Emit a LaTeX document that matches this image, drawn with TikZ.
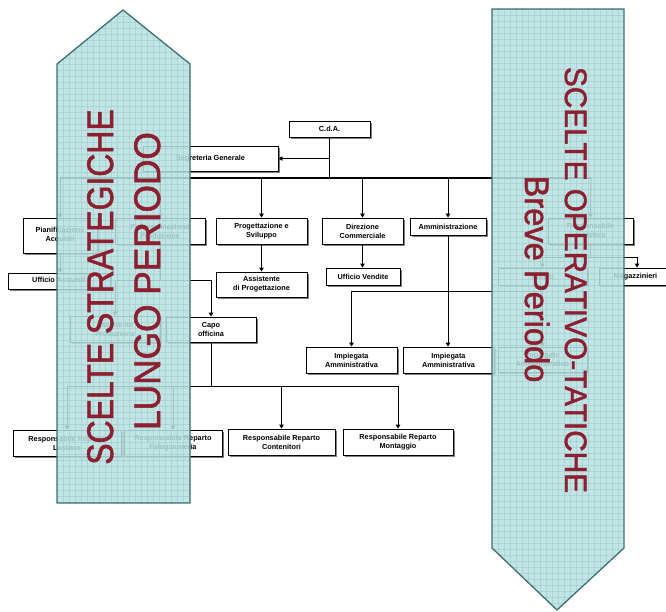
\documentclass[tikz,border=0pt]{standalone}
\usepackage{fontspec}
\usepackage{graphicx}
\setmainfont{Liberation Sans}
\newfontfamily\bigfont[FakeBold=1.6]{Liberation Sans}
\usetikzlibrary{arrows.meta,shadows}
\definecolor{afill}{RGB}{186,224,224}
\definecolor{agrid}{RGB}{150,204,204}
\definecolor{aline}{RGB}{62,112,112}
\definecolor{rtext}{RGB}{140,32,48}
\begin{document}
\begin{tikzpicture}[x=1pt,y=-1pt,
  box/.style={draw=black, line width=0.9pt, fill=white, inner sep=0pt, align=center,
    font=\bfseries\fontsize{7.3}{9}\selectfont,
    drop shadow={shadow xshift=1.6pt, shadow yshift=-1.6pt, fill=black!50, opacity=1}},
  wh/.style 2 args={minimum width=#1pt, minimum height=#2pt},
  conn/.style={line width=0.9pt},
  arr/.style={line width=0.9pt, -{Triangle[length=4pt,width=4.5pt]}},
  bus/.style={line width=1.7pt},
  bigtxt/.style={inner sep=0pt, text=rtext}
]
\useasboundingbox (0,0) rectangle (666,612);
\fill[white] (0,0) rectangle (666,612);

% boxes
\node[box, wh={81}{16}] (cda) at (329.5,129) {C.d.A.};
\node[box, wh={135}{25}] (seg) at (210.5,158.5) {Segreteria Generale};
\node[box, wh={74}{35}] (pian) at (60,235.5) {Pianificazione\\Acquisti};
\node[box, wh={90}{26}] (prog) at (160,231) {Programmazione\\Produzione};
\node[box, wh={91}{26}] (progsv) at (261.5,231) {Progettazione e\\Sviluppo};
\node[box, wh={81}{26}] (dircom) at (362.5,231) {Direzione\\Commerciale};
\node[box, wh={76}{17}] (amm) at (448,226.5) {Amministrazione};
\node[box, wh={85}{26}] (resplog) at (590.5,231) {Responsabile\\logistica};
\node[box, wh={91}{25}] (assprog) at (261.5,284.5) {Assistente\\di Progettazione};
\node[box, wh={74}{17}] (uffv) at (363,276.5) {Ufficio Vendite};
\node[box, wh={102}{16}] (uffacq) at (59,281) {Ufficio Acquisti};
\node[box, wh={89}{17}] (autisti) at (542.5,276.5) {Autisti};
\node[box, wh={73}{17}] (magaz) at (635.5,276.5) {Magazzinieri};
\node[box, wh={90}{26}] (assprod) at (115,329) {Assistente\\Produzione};
\node[box, wh={90}{25}] (capo) at (211,329.5) {Capo\\officina};
\node[box, wh={91}{26}] (imp1) at (351.5,360) {Impiegata\\Amministrativa};
\node[box, wh={91}{26}] (imp2) at (448.5,360) {Impiegata\\Amministrativa};
\node[box, wh={89}{25}] (imp3) at (542.5,359.5) {Impiegato\\Amministrativo};
\node[box, wh={108}{26}] (last) at (67,443) {Responsabile Reparto\\Lastiere};
\node[box, wh={98}{26}] (fale) at (173,443) {Responsabile Reparto\\Falegnameria};
\node[box, wh={107}{26}] (cont) at (281.5,442) {Responsabile Reparto\\Contenitori};
\node[box, wh={110}{26}] (mont) at (398,442) {Responsabile Reparto\\Montaggio};

% helper coordinates
\coordinate (busL) at (60,178);
\coordinate (busR) at (591,178);
\coordinate (y280) at (0,280);
\coordinate (y291) at (0,291);
\coordinate (y257) at (0,257);
\coordinate (y386) at (0,386);
\coordinate (mj) at (637,257);

% connectors
\draw[bus] (cda.south) -- (cda.south |- busL);
\draw[arr] (cda.south |- seg.east) -- (seg.east);
\draw[bus] (busL) -- (busR);
\draw[arr] (busL) -- (pian.north);
\draw[arr] (prog.north |- busL) -- (prog.north);
\draw[arr] (progsv.north |- busL) -- (progsv.north);
\draw[arr] (dircom.north |- busL) -- (dircom.north);
\draw[arr] (amm.north |- busL) -- (amm.north);
\draw[arr] (busR) -- (resplog.north);

\draw[arr] (pian.south) -- (uffacq.north -| pian.south);
\draw[arr] (progsv.south) -- (assprog.north);
\draw[arr] (dircom.south) -- (uffv.north -| dircom.south);

\draw[conn] (prog.south) -- (prog.south |- y280);
\draw[conn] (assprod.north |- y280) -- (capo.north |- y280);
\draw[arr] (assprod.north |- y280) -- (assprod.north);
\draw[arr] (capo.north |- y280) -- (capo.north);

\draw[conn] (amm.south) -- (amm.south |- y291);
\draw[conn] (imp1.north |- y291) -- (imp3.north |- y291);
\draw[arr] (imp1.north |- y291) -- (imp1.north);
\draw[arr] (amm.south |- y291) -- (imp2.north -| amm.south);
\draw[arr] (imp3.north |- y291) -- (imp3.north);

\draw[conn] (resplog.south) -- (resplog.south |- y257);
\draw[conn] (autisti.north |- y257) -- (mj);
\draw[arr] (autisti.north |- y257) -- (autisti.north);
\draw[arr] (mj) -- (magaz.north -| mj);

\draw[conn] (capo.south) -- (capo.south |- y386);
\draw[conn] (last.north |- y386) -- (mont.north |- y386);
\draw[arr] (last.north |- y386) -- (last.north);
\draw[arr] (fale.north |- y386) -- (fale.north);
\draw[arr] (cont.north |- y386) -- (cont.north);
\draw[arr] (mont.north |- y386) -- (mont.north);

% big arrows
\def\leftarrowpath{(57,64) -- (123,10) -- (190,64) -- (190,503) -- (57,503) -- cycle}
\def\rightarrowpath{(492,9) -- (624,9) -- (624,548) -- (557,610) -- (492,548) -- cycle}
\fill[afill, opacity=0.86] \leftarrowpath;
\fill[afill, opacity=0.86] \rightarrowpath;
\begin{scope}
  \clip \leftarrowpath;
  \foreach \x in {57,63,...,192} \draw[agrid, line width=0.6pt, opacity=0.55] (\x,8) -- (\x,505);
  \foreach \y in {10,16,...,505} \draw[agrid, line width=0.6pt, opacity=0.55] (55,\y) -- (192,\y);
\end{scope}
\begin{scope}
  \clip \rightarrowpath;
  \foreach \x in {492,498,...,626} \draw[agrid, line width=0.6pt, opacity=0.55] (\x,7) -- (\x,612);
  \foreach \y in {9,15,...,612} \draw[agrid, line width=0.6pt, opacity=0.55] (490,\y) -- (626,\y);
\end{scope}
\draw[aline, line width=1.3pt, line join=miter] \leftarrowpath;
\draw[aline, line width=1.3pt, line join=miter] \rightarrowpath;

% big texts
\node[bigtxt, rotate=90, anchor=base, font=\bigfont\fontsize{37}{40}\selectfont] (l1) at (113,287) {\scalebox{0.863}[1]{SCELTE STRATEGICHE}};
\node[bigtxt, rotate=90, anchor=base, font=\bigfont\fontsize{37}{40}\selectfont] (l2) at (160,281) {\scalebox{0.953}[1]{LUNGO PERIODO}};
\node[bigtxt, rotate=-90, anchor=base, font=\bigfont\fontsize{31}{34}\selectfont] (r1) at (565,280) {\scalebox{0.96}[1]{SCELTE OPERATIVO-TATICHE}};
\node[bigtxt, rotate=-90, anchor=base, font=\bigfont\fontsize{34}{37}\selectfont] (r2) at (525,279) {\scalebox{0.96}[1]{Breve Periodo}};
\end{tikzpicture}
\end{document}
